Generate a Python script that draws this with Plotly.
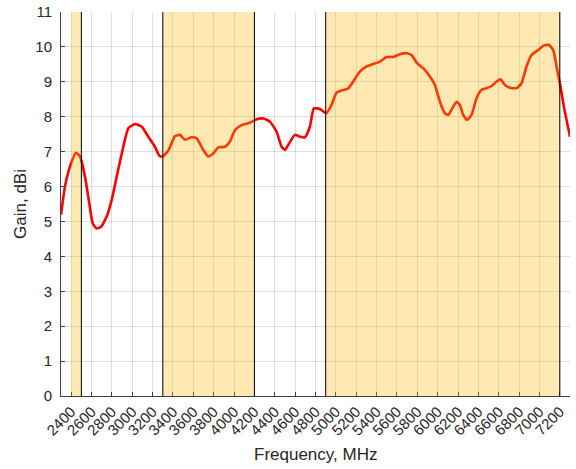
import plotly.graph_objects as go

freq_mhz = [2300, 2339, 2388, 2447, 2487, 2536, 2578, 2611, 2650, 2693, 2749, 2798, 2847,
            2912, 2961, 3027, 3092, 3157, 3223, 3266, 3300, 3354, 3419, 3469, 3518, 3583,
            3633, 3697, 3747, 3796, 3845, 3910, 3960, 4009, 4074, 4156, 4222, 4287, 4352,
            4418, 4467, 4500, 4542, 4598, 4647, 4696, 4745, 4784, 4843, 4905, 4958, 5007,
            5056, 5121, 5171, 5236, 5302, 5367, 5433, 5498, 5563, 5629, 5695, 5744, 5793,
            5858, 5924, 5973, 6022, 6071, 6104, 6153, 6186, 6218, 6251, 6290, 6333, 6382,
            6431, 6480, 6530, 6579, 6618, 6660, 6709, 6775, 6824, 6873, 6922, 6988, 7037,
            7090, 7135, 7174, 7207, 7240, 7300]
gain_dbi = [5.19, 6.00, 6.57, 6.97, 6.86, 6.28, 5.52, 4.95, 4.80, 4.85, 5.14, 5.62, 6.28,
            7.14, 7.67, 7.79, 7.72, 7.43, 7.14, 6.88, 6.86, 7.03, 7.44, 7.48, 7.34, 7.41,
            7.38, 7.05, 6.86, 6.95, 7.12, 7.14, 7.29, 7.62, 7.76, 7.83, 7.93, 7.95, 7.86,
            7.57, 7.14, 7.05, 7.24, 7.48, 7.43, 7.41, 7.72, 8.24, 8.22, 8.10, 8.34, 8.69,
            8.75, 8.81, 9.01, 9.29, 9.44, 9.51, 9.58, 9.71, 9.71, 9.79, 9.82, 9.77, 9.55,
            9.39, 9.15, 8.91, 8.43, 8.10, 8.05, 8.29, 8.43, 8.34, 8.05, 7.91, 8.05, 8.53,
            8.77, 8.82, 8.88, 9.01, 9.07, 8.91, 8.83, 8.82, 8.96, 9.44, 9.77, 9.91, 10.03,
            10.06, 9.91, 9.34, 8.85, 8.29, 7.43]

bands = [(2400, 2500), (3300, 4200), (4900, 7200)]
band_edges = [2500, 3300, 4200, 4900, 7200]
x_ticks = list(range(2400, 7201, 200))
y_ticks = list(range(0, 12))
x_title = "Frequency, MHz"
y_title = "Gain, dBi"

fig = go.Figure()
fig.add_trace(go.Scatter(x=freq_mhz, y=gain_dbi, mode="lines",
                         line=dict(color="#FF0000", width=2.6, shape="spline", smoothing=0.5),
                         showlegend=False, hoverinfo="skip"))

shapes = []
for a, b in bands:
    shapes.append(dict(type="rect", xref="x", yref="y", x0=a, x1=b, y0=0, y1=11,
                       fillcolor="rgba(255,182,0,0.3)", line=dict(width=0), layer="above"))
for e in band_edges:
    shapes.append(dict(type="line", xref="x", yref="y", x0=e, x1=e, y0=0, y1=11,
                       line=dict(color="#000000", width=1), layer="above"))
fig.update_layout(shapes=shapes)

font = dict(family="Liberation Sans, Arial, sans-serif", size=15, color="#262626")
fig.update_layout(
    width=576, height=469,
    margin=dict(l=61, r=6, t=12, b=73),
    paper_bgcolor="white", plot_bgcolor="white",
    font=font,
    xaxis=dict(range=[2300, 7300], tickvals=x_ticks, ticktext=[str(v) for v in x_ticks],
               tickangle=-45, showgrid=True, gridcolor="rgba(38,38,38,0.15)", gridwidth=1,
               showline=True, linecolor="#404040", linewidth=1, mirror=False,
               ticks="inside", ticklen=4, tickcolor="#404040", zeroline=False,
               automargin=False, tickfont=dict(size=15)),
    yaxis=dict(range=[0, 11], tickvals=y_ticks, showgrid=True,
               gridcolor="rgba(38,38,38,0.15)", gridwidth=1,
               showline=True, linecolor="#404040", linewidth=1, mirror=False,
               ticks="inside", ticklen=4, tickcolor="#404040", zeroline=False,
               automargin=False, tickfont=dict(size=15), ticklabelstandoff=5,
               ticklabeloverflow="allow"),
    annotations=[
        dict(text=x_title, xref="paper", yref="paper", x=0.5, y=-0.1536,
             xanchor="center", yanchor="middle", showarrow=False, font=dict(size=17)),
        dict(text=y_title, xref="paper", yref="paper", x=-0.0806, y=0.5, textangle=-90,
             xanchor="center", yanchor="middle", showarrow=False, font=dict(size=17)),
    ],
)

fig.write_html("out.html", config={"displayModeBar": False},
               post_script="document.body.style.margin='0px';document.body.style.overflow='hidden';")
